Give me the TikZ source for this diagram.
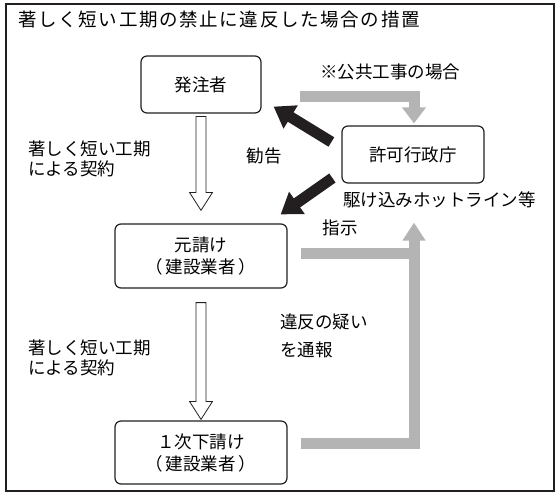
\documentclass[tikz,border=0pt]{standalone}
\usepackage{fontspec}
\setmainfont{Noto Sans CJK JP}
\usetikzlibrary{arrows.meta,calc}
\definecolor{boxline}{RGB}{35,31,32}
\definecolor{pipegray}{RGB}{180,180,180}
\tikzstyle{party}=[draw=boxline,line width=1.2pt,rounded corners=6pt,align=center,inner sep=0pt,font=\fontsize{17.5}{22}\selectfont]
\tikzstyle{note}=[align=left,inner sep=0pt,font=\fontsize{17.5}{20}\selectfont]
\tikzstyle{hollow}=[draw=boxline,line width=0.8pt,fill=white,line join=miter]
\tikzstyle{pipe}=[draw=pipegray,line width=11pt,line join=miter]
\tikzstyle{order}=[draw=boxline,line width=11pt,-{Triangle[width=26pt,length=20pt]}]

\begin{document}
\begin{tikzpicture}[x=1pt,y=-1pt]
    \useasboundingbox (0,0) rectangle (559,497);
    \draw[boxline,line width=1.2pt] (6,4) rectangle (554,491);
    \node[anchor=west,inner sep=0pt,font=\fontsize{18.5}{20}\selectfont\addfontfeature{LetterSpace=9}] (title) at (18,20) {著しく短い工期の禁止に違反した場合の措置};

    \node[party,minimum width=120pt,minimum height=57pt] (hatchu) at (201,84.5) {発注者};
    \node[party,minimum width=142pt,minimum height=57pt] (kyoka) at (413,154.5) {許可行政庁};
    \node[party,minimum width=172pt,minimum height=64pt] (motouke) at (201,256) {元請け\\（\hspace{3pt}建設業者\hspace{3pt}）};
    \node[party,minimum width=172pt,minimum height=63pt] (shita) at (201,452.5) {１次下請け\\（\hspace{3pt}建設業者\hspace{3pt}）};

    \node[note,anchor=west] (keiyaku1) at (28,159) {著しく短い工期\\による契約};
    \node[note,anchor=west] (keiyaku2) at (28,358) {著しく短い工期\\による契約};
    \node[note] (kokyo) at (390,72) {※公共工事の場合};
    \node[note] (kankoku) at (264,156) {勧告};
    \node[note,anchor=west] (hotline) at (343,200) {駆け込みホットライン等};
    \node[note] (shiji) at (340,228) {指示};
    \node[note,anchor=west,font=\fontsize{17.5}{28}\selectfont] (tsuho) at (280,336) {違反の疑い\\を通報};

    % contracts down the chain
    \foreach \from/\to/\s/\e in {hatchu/motouke/3/13,motouke/shita/14/1}
    \draw[hollow] ($(\from.south)+(-5,\s)$) -- ($(\to.north)+(-5,-\e-18)$) -- ($(\to.north)+(-11.5,-\e-18)$)
        -- ($(\to.north)+(0,-\e)$) -- ($(\to.north)+(11.5,-\e-18)$) -- ($(\to.north)+(5,-\e-18)$)
        -- ($(\from.south)+(5,\s)$) -- cycle;

    % reports to the authority
    \coordinate (pub) at (300,96.5);
    \draw[pipe,-{Triangle[width=23pt,length=16pt]}] (pub) -| ($(kyoka.north)+(1,-2)$);
    \draw[pipe] ($(motouke.east)+(13,-2.5)$) -- ($(motouke.east)+(132,-2.5)$);
    \draw[pipe,-{Triangle[width=22pt,length=18pt]}] ($(shita.east)+(13,-9.5)$) -| ($(kyoka.south)+(1,39)$);

    % orders from the authority
    \draw[order] ($(kyoka.west)+(-10,-12.5)$) -- ($(hatchu.south east)+(12,-7)$);
    \draw[order] ($(kyoka.west)+(-9,23.5)$) -- ($(motouke.north east)+(-7,-9)$);
\end{tikzpicture}
\end{document}
